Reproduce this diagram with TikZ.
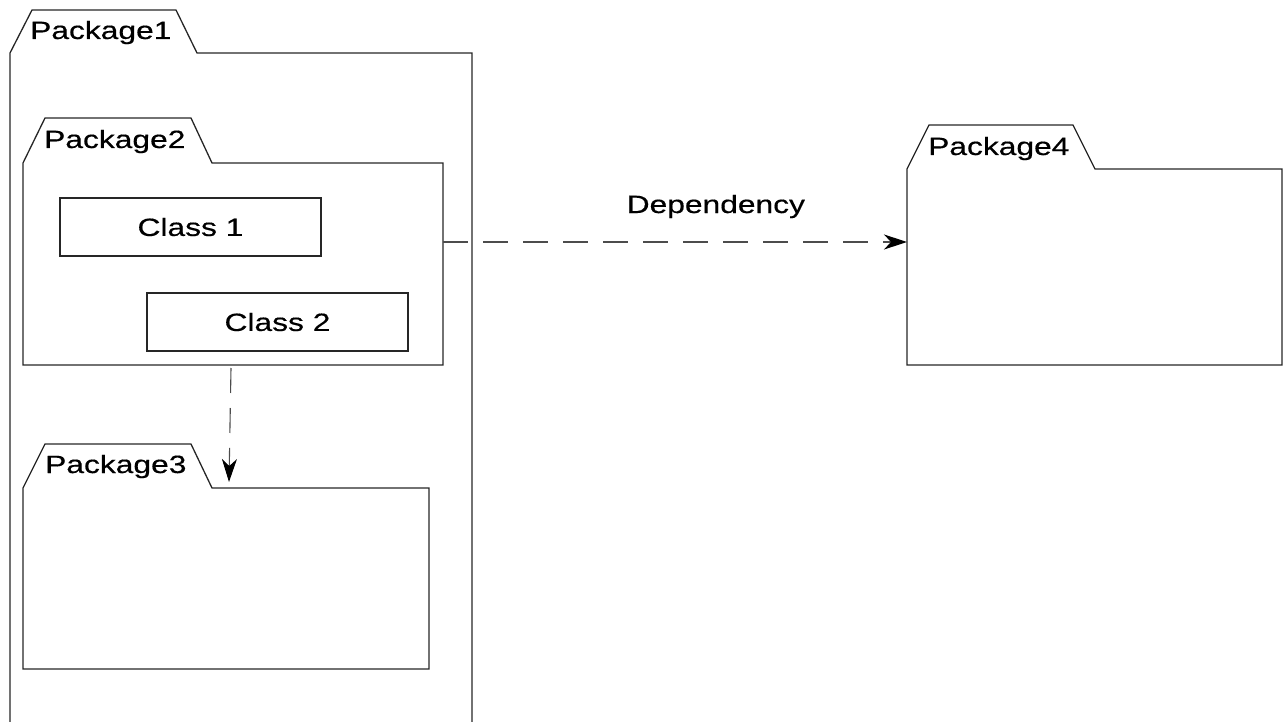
\documentclass[tikz,border=0pt]{standalone}
\usepackage{fontspec}
\setmainfont[FakeStretch=1.27,FakeBold=0.4]{Liberation Sans}
\usetikzlibrary{arrows.meta,calc}
\tikzset{
  pkgbody/.style={draw=none,inner sep=0pt,outer sep=0pt,anchor=north west},
  pkgline/.style={draw=black!85,line width=1.3pt,line join=miter},
  classbox/.style={draw=black!85,line width=1.3pt,inner sep=0pt,outer sep=0pt,anchor=north west,
    minimum width=261pt,minimum height=58pt,font=\fontsize{25}{30}\selectfont},
  pkglabel/.style={anchor=base west,inner sep=0pt,font=\fontsize{25}{30}\selectfont},
  deparrow/.style={draw=black!70,line width=1.1pt,dash pattern=on 25pt off 15pt,
    -{Stealth[length=23pt,width=15pt,inset=7pt,color=black,fill=black]}},
}
\begin{document}
\begin{tikzpicture}[x=1pt,y=-1pt]
\useasboundingbox (0,0) rectangle (1284,722);
% bodies
\node[pkgbody,minimum width=462pt,minimum height=669pt] (p1) at (10,53) {};
\node[pkgbody,minimum width=420pt,minimum height=202pt] (p2) at (23,163) {};
\node[pkgbody,minimum width=406pt,minimum height=181pt] (p3) at (23,488) {};
\node[pkgbody,minimum width=375pt,minimum height=196pt] (p4) at (907,169) {};
% package 1 (open at the bottom)
\draw[pkgline] (p1.south west) -- (p1.north west) -- ++(22,-43) -- ++(144,0) -- ++(21,43)
  -- (p1.north east) -- (p1.south east);
\node[pkglabel] (p1lbl) at ($(p1.north west)+(20,-14)$) {Package1};
% packages 2-4
\draw[pkgline] (p2.south west) -- (p2.north west) -- ++(22,-45) -- ++(146,0) -- ++(21,45)
  -- (p2.north east) -- (p2.south east) -- cycle;
\node[pkglabel] (p2lbl) at ($(p2.north west)+(21,-15)$) {Package2};
\draw[pkgline] (p3.south west) -- (p3.north west) -- ++(22,-44) -- ++(146,0) -- ++(21,44)
  -- (p3.north east) -- (p3.south east) -- cycle;
\node[pkglabel] (p3lbl) at ($(p3.north west)+(22,-15)$) {Package3};
\draw[pkgline] (p4.south west) -- (p4.north west) -- ++(22,-44) -- ++(144,0) -- ++(22,44)
  -- (p4.north east) -- (p4.south east) -- cycle;
\node[pkglabel] (p4lbl) at ($(p4.north west)+(21,-14)$) {Package4};
% classes
\node[classbox] (c1) at (60,198) {Class 1};
\node[classbox] (c2) at (147,293) {Class 2};
% dependencies
\coordinate (d1s) at ($(p2.north east)+(0,79)$);
\coordinate (d1e) at ($(p4.north west)+(0,73)$);
\draw[deparrow] (d1s) -- (d1e)
  node[pos=0.588,anchor=base,yshift=29pt,inner sep=0pt,font=\fontsize{25}{30}\selectfont] (dep) {Dependency};
\coordinate (d2s) at ($(p2.south west)+(208,3)$);
\coordinate (d2e) at ($(p3.north west)+(206,-6)$);
\draw[deparrow] (d2s) -- (d2e);
\end{tikzpicture}
\end{document}
